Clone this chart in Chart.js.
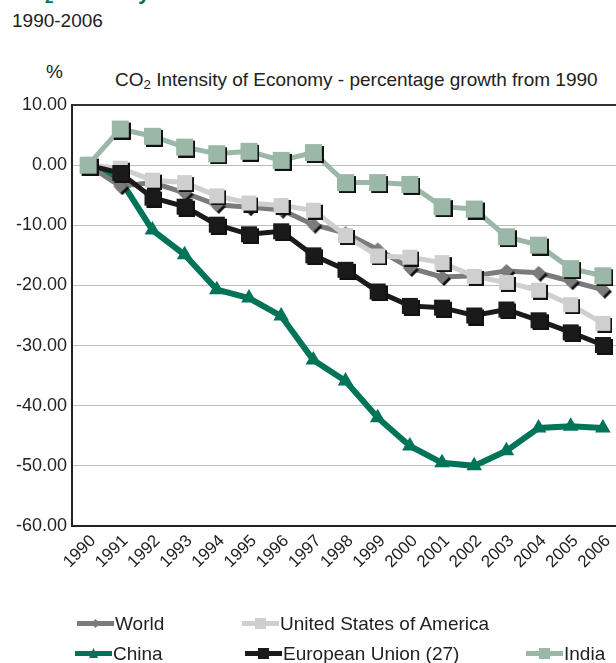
<!DOCTYPE html>
<html>
<head>
<meta charset="utf-8">
<script src="https://cdn.jsdelivr.net/npm/chart.js@4/dist/chart.umd.min.js"></script>
<style>
  html, body { margin: 0; padding: 0; width: 616px; height: 663px; overflow: hidden; background: #fff; }
  body { position: relative; font-family: "Liberation Sans", Arial, sans-serif; color: #222; }
  #chart { position: absolute; left: 0; top: 0; }
  .txt { position: absolute; white-space: nowrap; font-size: 19px; line-height: 19px; }
  .heading { left: 12px; top: -19px; font-size: 22px; line-height: 22px; font-weight: bold; color: #007458; }
  .legend-item { position: absolute; white-space: nowrap; font-size: 19px; line-height: 19px; }
  .legend-item canvas { position: absolute; }
  sub { font-size: 0.7em; vertical-align: -0.25em; line-height: 0; }
</style>
</head>
<body>
<div class="txt heading">CO<sub>2</sub> Intensity</div>
<div class="txt" style="left:12px; top:11px;">1990-2006</div>
<div class="txt" style="left:46px; top:62px;">%</div>
<div class="txt" style="left:115px; top:70px;">CO<sub>2</sub> Intensity of Economy - percentage growth from 1990</div>
<canvas id="chart" width="628" height="663"></canvas>
<div id="legend"></div>
<script>
// years on the x axis
const years = ['1990', '1991', '1992', '1993', '1994', '1995', '1996', '1997', '1998',
  '1999', '2000', '2001', '2002', '2003', '2004', '2005', '2006'];

// percentage growth of CO2 intensity since 1990
const world = [0, -3.5, -2.9, -4.6, -6.6, -7.0, -7.4, -9.9, -11.3, -14.0, -17.1, -18.6, -18.4, -17.6, -17.9, -19.3, -20.7];
const usa = [0, -0.5, -2.5, -2.9, -5.1, -6.3, -6.7, -7.5, -11.7, -15.1, -15.3, -16.2, -18.5, -19.5, -20.8, -23.2, -26.3];
const china = [0, -2.4, -10.8, -14.9, -20.7, -22.1, -25.1, -32.4, -35.9, -42.0, -46.7, -49.5, -50.0, -47.5, -43.7, -43.4, -43.7];
const eu = [0, -1.3, -5.4, -6.9, -9.9, -11.5, -11.0, -15.0, -17.4, -21.0, -23.4, -23.7, -25.0, -24.0, -25.8, -27.8, -29.9];
const india = [0, 6.0, 4.8, 3.0, 1.9, 2.3, 0.8, 2.1, -2.9, -2.9, -3.2, -6.9, -7.3, -11.9, -13.3, -17.2, -18.4];

const yTicks = [10, 0, -10, -20, -30, -40, -50, -60];

const colors = {
  world: '#7b7b7b',
  usa: '#cfcfcf',
  china: '#007458',
  eu: '#1a1a1a',
  india: '#9bb7a7'
};

// marker images with the little dark drop shadow the original has
function squareMarker(size, color) {
  const c = document.createElement('canvas');
  c.width = c.height = size + 4;
  const g = c.getContext('2d');
  g.fillStyle = '#111';
  g.fillRect(4, 4, size, size);
  g.fillStyle = color;
  g.fillRect(2, 2, size, size);
  return c;
}

function diamondMarker(size, color) {
  const c = document.createElement('canvas');
  c.width = c.height = size + 4;
  const g = c.getContext('2d');
  const h = size / 2;
  const draw = (ox, oy, fill) => {
    g.fillStyle = fill;
    g.beginPath();
    g.moveTo(ox + h, oy);
    g.lineTo(ox + size, oy + h);
    g.lineTo(ox + h, oy + size);
    g.lineTo(ox, oy + h);
    g.closePath();
    g.fill();
  };
  draw(4, 4, '#111');
  draw(2, 2, color);
  return c;
}

const markers = {
  world: diamondMarker(14, colors.world),
  usa: squareMarker(15, colors.usa),
  eu: squareMarker(16, colors.eu),
  india: squareMarker(17, colors.india)
};

function series(label, data, color, marker, order) {
  return {
    label: label,
    data: data,
    borderColor: color,
    backgroundColor: color,
    borderWidth: 5,
    pointStyle: marker,
    pointRadius: 8,
    pointBorderWidth: 0,
    tension: 0,
    fill: false,
    order: order
  };
}

const chinaSet = series('China', china, colors.china, 'triangle', 4);
chinaSet.borderWidth = 6;
chinaSet.pointRadius = 9;

new Chart(document.getElementById('chart'), {
  type: 'line',
  data: {
    labels: years,
    datasets: [
      series('India', india, colors.india, markers.india, 0),
      series('European Union (27)', eu, colors.eu, markers.eu, 1),
      series('United States of America', usa, colors.usa, markers.usa, 2),
      series('World', world, colors.world, markers.world, 3),
      chinaSet
    ]
  },
  options: {
    responsive: false,
    animation: false,
    layout: { padding: { top: 105, left: 0, right: 0, bottom: 0 } },
    plugins: {
      legend: { display: false },
      tooltip: { enabled: false }
    },
    scales: {
      x: {
        offset: true,
        afterFit: (scale) => { scale.height = 137; },
        grid: { display: false, drawTicks: false },
        border: { display: true, color: '#222', width: 2 },
        ticks: {
          color: '#222',
          font: { family: 'Liberation Sans', size: 17 },
          minRotation: 45,
          maxRotation: 45,
          padding: 5,
          labelOffset: 5,
          autoSkip: false
        }
      },
      y: {
        min: -60,
        max: 10,
        afterFit: (scale) => { scale.width = 72; },
        afterBuildTicks: (scale) => { scale.ticks = yTicks.map(v => ({ value: v })); },
        grid: {
          drawTicks: false,
          color: (ctx) => (ctx.tick && ctx.tick.value === 10 ? '#333' : '#bdbdbd'),
          lineWidth: (ctx) => (ctx.tick && ctx.tick.value === 10 ? 2 : 1)
        },
        border: { display: true, color: '#222', width: 2 },
        ticks: {
          color: '#222',
          font: { family: 'Liberation Sans', size: 18 },
          padding: 5,
          callback: (v) => Number(v).toFixed(2)
        }
      }
    }
  }
});

// legend laid out like the original, two rows
const legendItems = [
  { label: 'World', color: colors.world, marker: 'diamond', x: 77, y: 614 },
  { label: 'United States of America', color: colors.usa, marker: 'square', x: 242, y: 614 },
  { label: 'China', color: colors.china, marker: 'triangle', x: 75, y: 644 },
  { label: 'European Union (27)', color: colors.eu, marker: 'square', x: 245, y: 644 },
  { label: 'India', color: colors.india, marker: 'square', x: 526, y: 644 }
];

const legend = document.getElementById('legend');
legendItems.forEach((item) => {
  const div = document.createElement('div');
  div.className = 'legend-item';
  div.style.left = item.x + 'px';
  div.style.top = item.y + 'px';
  const c = document.createElement('canvas');
  c.width = 37;
  c.height = 14;
  c.style.left = '0px';
  c.style.top = '2px';
  const g = c.getContext('2d');
  g.fillStyle = item.color;
  g.fillRect(0, 5, 37, 5);
  if (item.marker === 'square') {
    g.fillRect(13, 2, 11, 11);
  } else if (item.marker === 'diamond') {
    g.beginPath();
    g.moveTo(18.5, 3); g.lineTo(23, 7.5); g.lineTo(18.5, 12); g.lineTo(14, 7.5);
    g.closePath(); g.fill();
  } else {
    g.beginPath();
    g.moveTo(18.5, 2); g.lineTo(23, 12); g.lineTo(14, 12);
    g.closePath(); g.fill();
  }
  div.appendChild(c);
  const span = document.createElement('span');
  span.textContent = item.label;
  span.style.marginLeft = '38px';
  div.appendChild(span);
  legend.appendChild(div);
});
</script>
</body>
</html>
